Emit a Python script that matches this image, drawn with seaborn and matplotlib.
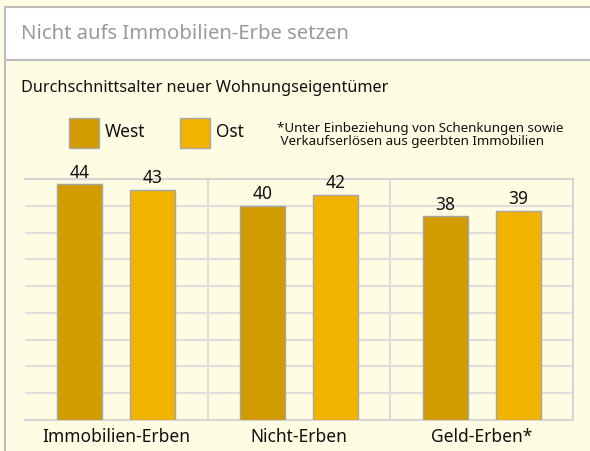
import matplotlib
matplotlib.use("Agg")
import matplotlib.pyplot as plt
from matplotlib.patches import Rectangle
from matplotlib.lines import Line2D
import seaborn as sns
import pandas as pd

categories = ["Immobilien-Erben", "Nicht-Erben", "Geld-Erben*"]
west = [44, 40, 38]
ost = [43, 42, 39]
series = ["West", "Ost"]
colors = {"West": "#D29B00", "Ost": "#F0B400"}

title = "Nicht aufs Immobilien-Erbe setzen"
subtitle = "Durchschnittsalter neuer Wohnungseigentümer"
footnote = "*Unter Einbeziehung von Schenkungen sowie\n Verkaufserlösen aus geerbten Immobilien"

df = pd.DataFrame({
    "Kategorie": categories * 2,
    "Region": ["West"] * len(west) + ["Ost"] * len(ost),
    "Alter": west + ost,
})

sns.set_theme(style="white")
plt.rcParams["font.family"] = ["Noto Sans", "DejaVu Sans"]

W, H = 590, 451
fig = plt.figure(figsize=(W / 100, H / 100), dpi=100)
BG = "#FEFCE2"
fig.patch.set_facecolor(BG)

def fx(px):
    return px / W

def fy(py):
    return 1 - py / H

# header band
fig.patches.append(Rectangle((fx(5), fy(60)), 1, fy(7) - fy(60), transform=fig.transFigure,
                             facecolor="white", edgecolor="none", zorder=0))
frame = "#BDBDBD"
fig.add_artist(Line2D([fx(5), 1], [fy(7), fy(7)], color=frame, lw=1.5))
fig.add_artist(Line2D([fx(5), 1], [fy(60), fy(60)], color=frame, lw=1.5))
fig.add_artist(Line2D([fx(5), fx(5)], [0, fy(7)], color=frame, lw=1.5))

fig.text(fx(21), fy(34), title, ha="left", va="center", fontsize=14.6, color="#9A9A9A")
fig.text(fx(21), fy(88), subtitle, ha="left", va="center", fontsize=11.7, color="#111111")

# legend
for i, (s, x0) in enumerate(zip(series, [69, 180])):
    fig.patches.append(Rectangle((fx(x0), fy(148)), fx(30), fy(118) - fy(148),
                                 transform=fig.transFigure, facecolor=colors[s],
                                 edgecolor="#A8A8A8", lw=1))
    fig.text(fx(x0 + 36), fy(132), s, ha="left", va="center", fontsize=12.5, color="#111111")

fig.text(fx(277), fy(135), footnote, ha="left", va="center", fontsize=9.6,
         color="#111111", linespacing=1.0)

ax = fig.add_axes([fx(25), 1 - 420 / H, fx(573) - fx(25), (420 - 179) / H])
ax.set_facecolor(BG)
sns.barplot(data=df, x="Kategorie", y="Alter", hue="Region", hue_order=series,
            palette=colors, saturation=1, width=0.8, gap=0.385, edgecolor="#A5A5A5",
            linewidth=1, legend=False, ax=ax, zorder=3)

for c in ax.containers:
    ax.bar_label(c, fmt="%d", padding=2, fontsize=12.5, color="#111111")

ax.set_ylim(0, 45)
ax.set_xlim(-0.5, 2.5)
ax.set_yticks(range(0, 46, 5))
ax.set_yticklabels([])
ax.set_xticks(range(len(categories)))
ax.set_xticks([0.5, 1.5], minor=True)
ax.tick_params(axis="x", which="both", length=0, pad=6, labelsize=12.5, colors="#111111")
ax.tick_params(axis="y", length=0)
ax.grid(True, axis="y", color="#DEDEDE", lw=1.5, zorder=0)
ax.grid(True, axis="x", which="minor", color="#DEDEDE", lw=1.5, zorder=0)
ax.set_axisbelow(True)
ax.set_xlabel("")
ax.set_ylabel("")
for sp in ax.spines.values():
    sp.set_color("#D6D6D6")
    sp.set_linewidth(1.5)
ax.spines["left"].set_visible(False)

fig.savefig("out.png", dpi=100, facecolor=BG)
